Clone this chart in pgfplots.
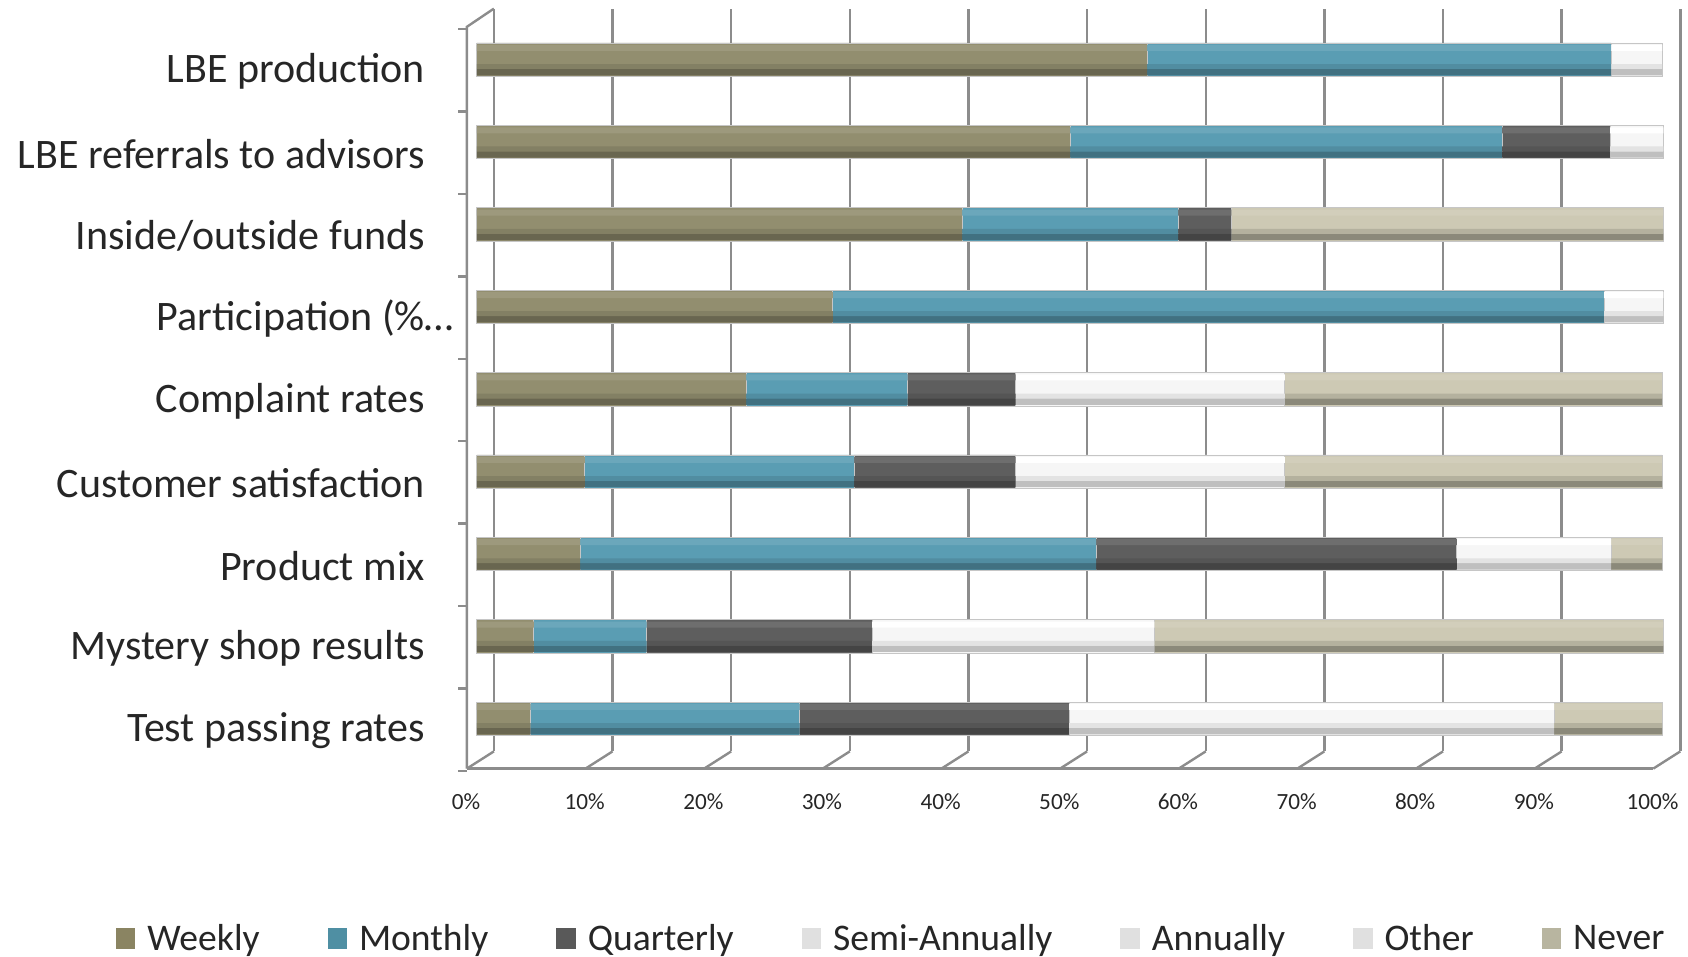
\documentclass[border=0pt]{standalone}
\usepackage{pgfplots}
\usepackage{pgfplotstable}
\pgfplotsset{compat=1.18}
\usepackage{fontspec}
\setmainfont{Carlito}
\definecolor{cW}{HTML}{928E6F}
\definecolor{cM}{HTML}{5A9DB3}
\definecolor{cQ}{HTML}{5E5E5E}
\definecolor{cS}{HTML}{F6F6F6}
\definecolor{cN}{HTML}{CDC9B4}
\definecolor{lW}{HTML}{8A8462}
\definecolor{lM}{HTML}{4F8FA3}
\definecolor{lQ}{HTML}{595959}
\definecolor{lS}{HTML}{E0E0E0}
\definecolor{lN}{HTML}{B8B5A0}
\definecolor{gridc}{HTML}{8C8C8C}
% y: 0 Test passing, 1 Mystery shop, 2 Product mix, 3 Customer satisfaction,
% 4 Complaint rates, 5 Participation, 6 Inside/outside funds, 7 LBE referrals, 8 LBE production
\pgfplotstableread{
y  W     M     Q     S     N
0  4.5   22.7  22.7  40.9  9.1
1  4.8   9.5   19.0  23.8  42.9
2  8.7   43.5  30.4  13.0  4.3
3  9.1   22.7  13.6  22.7  31.8
4  22.7  13.6  9.1   22.7  31.8
5  30.0  65.0  0     5.0   0
6  40.9  18.2  4.5   0     36.4
7  50.0  36.4  9.1   4.5   0
8  56.5  39.1  0     4.3   0
}\data
\pgfplotsset{
  base/.style={
    at={(0,0)}, anchor=south west, scale only axis,
    width=593.2pt, height=371.4pt,
    xbar stacked,
    xmin=0, xmax=100, ymin=-0.396, ymax=8.62,
    clip=false,
  },
  band/.style={base, hide axis, bar width=#1},
}
\begin{document}
\begin{tikzpicture}
\useasboundingbox (-238.45pt,-102.8pt) rectangle (605.55pt,375.7pt);
\begin{axis}[base,
  bar width=16.7pt, bar shift=0pt,
  xtick={0,10,...,100},
  xticklabels={0\%,10\%,20\%,30\%,40\%,50\%,60\%,70\%,80\%,90\%,100\%},
  ytick={0,...,8},
  yticklabels={Test passing rates,Mystery shop results,Product mix,Customer satisfaction,Complaint rates,{Participation (\%\rlap{…}},Inside/outside funds,LBE referrals to advisors,LBE production},
  axis line style={draw=none}, major tick length=0pt, tick style={draw=none},
  xmajorgrids, ymajorgrids=false,
  major grid style={draw=gridc, line width=1.2pt, xshift=8.5pt},
  yticklabel style={font=\fontsize{21}{25}\selectfont, text=black!85, anchor=east, inner sep=0pt, xshift=-25.8pt, yshift=-5.9pt},
  xticklabel style={font=\fontsize{11.6}{13}\selectfont, text=black!85, anchor=center, inner sep=0pt, yshift=-25.3pt, xshift=-5.4pt},
  legend style={at={(0.350,-0.252)}, anchor=center, draw=none, fill=none,
    font=\fontsize{18.8}{22}\selectfont, text=black!85,
    /tikz/every even column/.append style={column sep=32pt},
    /tikz/every odd column/.append style={column sep=4pt}},
  legend columns=7,
  every axis plot/.append style={draw=gray!45, line width=0.4pt},
]
\addplot[fill=cW, legend image code/.code={\fill[lW, draw=none] (0pt,-5.4pt) rectangle (9.7pt,5.4pt);}]
  table[x=W, y=y]{\data};
\addlegendentry{Weekly}
\addplot[fill=cM, legend image code/.code={\fill[lM, draw=none] (0pt,-5.4pt) rectangle (9.7pt,5.4pt);}]
  table[x=M, y=y]{\data};
\addlegendentry{Monthly}
\addplot[fill=cQ, legend image code/.code={\fill[lQ, draw=none] (0pt,-5.4pt) rectangle (9.7pt,5.4pt);}]
  table[x=Q, y=y]{\data};
\addlegendentry{Quarterly}
\addplot[fill=cS, legend image code/.code={\fill[lS, draw=none] (0pt,-5.4pt) rectangle (9.7pt,5.4pt);}]
  table[x=S, y=y]{\data};
\addlegendentry{Semi-Annually}
\addlegendimage{legend image code/.code={\fill[lS, draw=none] (0pt,-5.4pt) rectangle (9.7pt,5.4pt);}}
\addlegendentry{Annually}
\addlegendimage{legend image code/.code={\fill[lS, draw=none] (0pt,-5.4pt) rectangle (9.7pt,5.4pt);}}
\addlegendentry{Other}
\addplot[fill=cN, legend image code/.code={\fill[lN, draw=none] (0pt,-5.4pt) rectangle (9.7pt,5.4pt);}]
  table[x=N, y=y]{\data};
\addlegendentry{Never}
% walls and floor
\draw[gridc, line width=1.2pt] ([xshift=-5pt,yshift=-8.6pt]rel axis cs:0,0) -- ([xshift=-5pt,yshift=-9.1pt]rel axis cs:0,1) -- ([xshift=8.5pt]rel axis cs:0,1);
\draw[gridc, line width=1.6pt] ([xshift=-5pt,yshift=-8.6pt]rel axis cs:0,0) -- ([xshift=-5pt,yshift=-8.6pt]rel axis cs:1,0);
\pgfplotsinvokeforeach{0,10,20,30,40,50,60,70,80,90,100}{
  \draw[gridc, line width=1.2pt] ([xshift=-5pt,yshift=-8.6pt]axis cs:#1,-0.396) -- ([xshift=8.5pt]axis cs:#1,-0.396);
}
\pgfplotsinvokeforeach{-0.5,0.5,1.5,2.5,3.5,4.5,5.5,6.5,7.5,8.5}{
  \draw[gridc, line width=1.2pt] ([xshift=-5pt,yshift=-5.4pt]axis cs:0,#1) -- ([xshift=-9.5pt,yshift=-5.4pt]axis cs:0,#1);
}
\end{axis}
% lower dark band (cylinder shading)
\begin{axis}[band=3.2pt, bar shift=-6.2pt, every axis plot/.append style={draw=none}]
\addplot[fill=cW!72!black] table[x=W, y=y]{\data};
\addplot[fill=cM!72!black] table[x=M, y=y]{\data};
\addplot[fill=cQ!72!black] table[x=Q, y=y]{\data};
\addplot[fill=gray!50] table[x=S, y=y]{\data};
\addplot[fill=cN!68!black] table[x=N, y=y]{\data};
\end{axis}
% mid-dark band
\begin{axis}[band=2.4pt, bar shift=-3.4pt, every axis plot/.append style={draw=none}]
\addplot[fill=cW!90!black] table[x=W, y=y]{\data};
\addplot[fill=cM!90!black] table[x=M, y=y]{\data};
\addplot[fill=cQ!90!black] table[x=Q, y=y]{\data};
\addplot[fill=gray!22] table[x=S, y=y]{\data};
\addplot[fill=cN!88!black] table[x=N, y=y]{\data};
\end{axis}
% upper light band
\begin{axis}[band=3pt, bar shift=5.9pt, every axis plot/.append style={draw=none}]
\addplot[fill=cW!90!white] table[x=W, y=y]{\data};
\addplot[fill=cM!90!white] table[x=M, y=y]{\data};
\addplot[fill=cQ!90!white] table[x=Q, y=y]{\data};
\addplot[fill=white] table[x=S, y=y]{\data};
\addplot[fill=cN!90!white] table[x=N, y=y]{\data};
\end{axis}
\end{tikzpicture}
\end{document}
